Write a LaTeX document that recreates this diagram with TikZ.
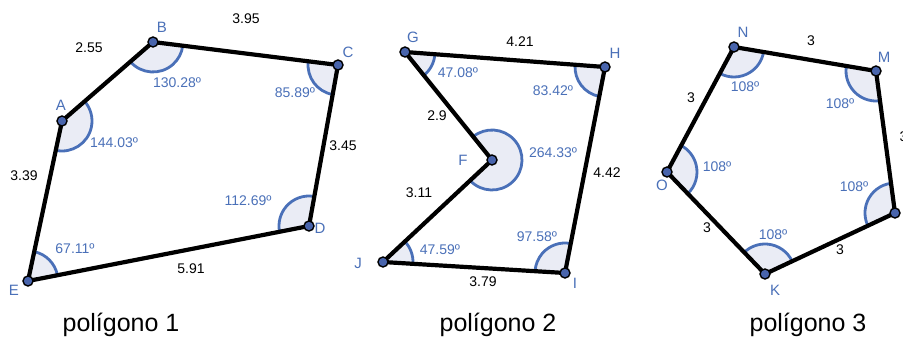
\documentclass[tikz,border=0pt]{standalone}
\usepackage{fontspec}
\setmainfont{Liberation Sans}
\usetikzlibrary{angles}
\definecolor{angblue}{RGB}{74,112,184}
\definecolor{angfill}{RGB}{234,236,245}
\definecolor{dotblue}{RGB}{72,100,172}

\begin{document}
\begin{tikzpicture}[
  x=1pt, y=1pt,
  side/.style={line width=4.2pt, line join=round},
  ang/.style={draw=angblue, fill=angfill, line width=2.8pt, angle radius=30pt},
  vert/.style={circle, fill=dotblue, draw=black, line width=1.4pt, minimum size=10pt, inner sep=0pt},
  vname/.style={text=angblue, font=\fontsize{15}{17}\selectfont},
  len/.style={font=\fontsize{14}{16}\selectfont},
  deg/.style={text=angblue, font=\fontsize{14}{16}\selectfont},
  caption/.style={font=\fontsize{25}{28}\selectfont, anchor=base}
]
\useasboundingbox (0,0) rectangle (903,338);

\coordinate (A) at (62,217);
\coordinate (B) at (153,296);
\coordinate (C) at (338,273);
\coordinate (D) at (309,112);
\coordinate (E) at (28,57);

\coordinate (G) at (405,286);
\coordinate (H) at (605,271);
\coordinate (I) at (565,65);
\coordinate (J) at (383,76);
\coordinate (F) at (492,178);

\coordinate (N) at (734,291);
\coordinate (M) at (876,267);
\coordinate (L) at (895,125);
\coordinate (K) at (765,64);
\coordinate (O) at (667,166);

\pic[ang] {angle=E--A--B};
\pic[ang] {angle=A--B--C};
\pic[ang] {angle=B--C--D};
\pic[ang] {angle=C--D--E};
\pic[ang] {angle=D--E--A};

\pic[ang] {angle=F--G--H};
\pic[ang] {angle=G--H--I};
\pic[ang] {angle=H--I--J};
\pic[ang] {angle=I--J--F};
\pic[ang] {angle=J--F--G};

\pic[ang] {angle=O--N--M};
\pic[ang] {angle=N--M--L};
\pic[ang] {angle=M--L--K};
\pic[ang] {angle=L--K--O};
\pic[ang] {angle=K--O--N};

\draw[side] (A) -- (B) -- (C) -- (D) -- (E) -- cycle;
\draw[side] (G) -- (H) -- (I) -- (J) -- (F) -- cycle;
\draw[side] (N) -- (M) -- (L) -- (K) -- (O) -- cycle;

\foreach \v in {A,B,C,D,E,F,G,H,I,J,K,L,M,N,O}
  \node[vert] (dot\v) at (\v) {};

\node[vname] (labA) at (61,233) {A};
\node[vname] (labB) at (162,311) {B};
\node[vname] (labC) at (348,286) {C};
\node[vname] (labD) at (320,110) {D};
\node[vname] (labE) at (14,48) {E};
\node[vname] (labG) at (413,301) {G};
\node[vname] (labH) at (615,285) {H};
\node[vname] (labF) at (463,178) {F};
\node[vname] (labI) at (575,55) {I};
\node[vname] (labJ) at (358,75) {J};
\node[vname] (labN) at (743,306) {N};
\node[vname] (labM) at (884,281) {M};
\node[vname] (labK) at (775,48) {K};
\node[vname] (labO) at (662,153) {O};

\node[len] (lAB) at (89,290) {2.55};
\node[len] (lBC) at (246,319) {3.95};
\node[len] (lCD) at (343,192) {3.45};
\node[len] (lEA) at (24,162) {3.39};
\node[len] (lDE) at (191,69) {5.91};
\node[len] (lGH) at (520,296) {4.21};
\node[len] (lFG) at (437,222) {2.9};
\node[len] (lJF) at (419,145) {3.11};
\node[len] (lHI) at (607,165) {4.42};
\node[len] (lIJ) at (483,56) {3.79};
\node[len] (lNM) at (811,297) {3};
\node[len] (lON) at (691,240) {3};
\node[len] (lKO) at (707,110) {3};
\node[len] (lLK) at (840,88) {3};
\node[len, anchor=west] (lML) at (896,201) {3};

\node[deg] (aB) at (177,255) {130.28º};
\node[deg] (aC) at (295,245) {85.89º};
\node[deg] (aA) at (114,195) {144.03º};
\node[deg] (aD) at (248,137) {112.69º};
\node[deg] (aE) at (75,89) {67.11º};
\node[deg] (aG) at (458,265) {47.08º};
\node[deg] (aH) at (553,247) {83.42º};
\node[deg] (aF) at (553,185) {264.33º};
\node[deg] (aJ) at (440,88) {47.59º};
\node[deg] (aI) at (537,101) {97.58º};
\node[deg] (aN) at (745,251) {108º};
\node[deg] (aM) at (840,234) {108º};
\node[deg] (aO) at (717,171) {108º};
\node[deg] (aL) at (854,151) {108º};
\node[deg] (aK) at (773,103) {108º};

\node[caption] (cap1) at (121,7) {polígono 1};
\node[caption] (cap2) at (498,7) {polígono 2};
\node[caption] (cap3) at (808,7) {polígono 3};
\end{tikzpicture}
\end{document}
